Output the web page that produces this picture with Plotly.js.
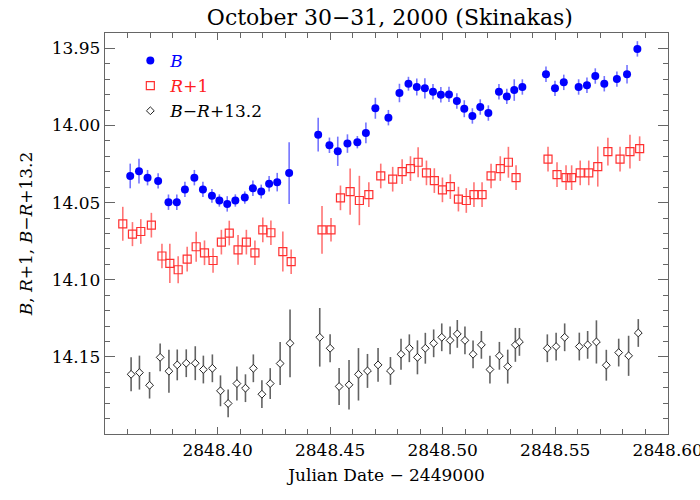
<!DOCTYPE html>
<html>
<head>
<meta charset="utf-8">
<script src="https://cdn.plot.ly/plotly-3.0.1.min.js"></script>
<style>
  html, body { margin: 0; padding: 0; background: #fff; }
  #chart { width: 700px; height: 500px; }
</style>
</head>
<body>
<div id="chart"></div>
<script>
// B band
var bJD = [2848.3612, 2848.3651, 2848.3689, 2848.3736, 2848.3782, 2848.3819, 2848.3855, 2848.3897, 2848.3935, 2848.3975,
  2848.4008, 2848.4043, 2848.4079, 2848.4121, 2848.4157, 2848.4194, 2848.4229, 2848.4265, 2848.4318,
  2848.4447, 2848.4497, 2848.4534, 2848.4577, 2848.4621, 2848.4659, 2848.4701, 2848.4759, 2848.4808, 2848.4848,
  2848.4885, 2848.4921, 2848.4957, 2848.4992, 2848.5028, 2848.5063, 2848.5096, 2848.5132, 2848.5167, 2848.5203,
  2848.5250, 2848.5285, 2848.5318, 2848.5354,
  2848.5459, 2848.5499, 2848.5538, 2848.5604, 2848.5641, 2848.5678, 2848.5718, 2848.5774, 2848.5819, 2848.5865];
var bMag = [14.0327, 14.0296, 14.0338, 14.0359, 14.0497, 14.0497, 14.0414, 14.0338, 14.0414, 14.0456,
  14.0486, 14.0508, 14.0486, 14.0467, 14.0407, 14.0428, 14.0377, 14.0367, 14.0308,
  14.0059, 14.0128, 14.0167, 14.0117, 14.0108, 14.0048, 13.9888, 13.9949, 13.9789, 13.9729,
  13.9750, 13.9759, 13.9781, 13.9800, 13.9798, 13.9841, 13.9891, 13.9938, 13.9880, 13.9919,
  13.9781, 13.9811, 13.9770, 13.9750,
  13.9668, 13.9759, 13.9720, 13.9750, 13.9739, 13.9679, 13.9729, 13.9699, 13.9668, 13.9503];
var bErr = [0.008, 0.008, 0.005, 0.005, 0.005, 0.005, 0.005, 0.005, 0.005, 0.0045,
  0.004, 0.005, 0.004, 0.004, 0.005, 0.0045, 0.005, 0.006, 0.020,
  0.011, 0.005, 0.0095, 0.006, 0.004, 0.0067, 0.0068, 0.005, 0.006, 0.0045,
  0.0055, 0.0065, 0.005, 0.005, 0.005, 0.005, 0.0055, 0.005, 0.005, 0.005,
  0.005, 0.005, 0.007, 0.005,
  0.005, 0.005, 0.005, 0.005, 0.005, 0.005, 0.005, 0.005, 0.006, 0.005];

// R band + 1
var rJD = [2848.3579, 2848.3622, 2848.3659, 2848.3706, 2848.3753, 2848.3788, 2848.3825, 2848.3865, 2848.3905, 2848.3942,
  2848.3980, 2848.4017, 2848.4052, 2848.4091, 2848.4128, 2848.4166, 2848.4201, 2848.4237, 2848.4290, 2848.4327,
  2848.4464, 2848.4504, 2848.4546, 2848.4589, 2848.4630, 2848.4672, 2848.4725, 2848.4778, 2848.4820, 2848.4857,
  2848.4891, 2848.4928, 2848.4963, 2848.4999, 2848.5034, 2848.5070, 2848.5105, 2848.5139, 2848.5175, 2848.5215,
  2848.5256, 2848.5292, 2848.5326,
  2848.5468, 2848.5508, 2848.5548, 2848.5573, 2848.5611, 2848.5649, 2848.5689, 2848.5734, 2848.5788, 2848.5832, 2848.5875];
var rMag = [14.0637, 14.0704, 14.0687, 14.0646, 14.0846, 14.0894, 14.0935, 14.0866, 14.0786, 14.0825,
  14.0875, 14.0756, 14.0697, 14.0806, 14.0756, 14.0825, 14.0676, 14.0695, 14.0817, 14.0883,
  14.0676, 14.0676, 14.0469, 14.0428, 14.0486, 14.0448, 14.0327, 14.0348, 14.0299, 14.0279,
  14.0238, 14.0307, 14.0357, 14.0417, 14.0396, 14.0477, 14.0486, 14.0448, 14.0448, 14.0327,
  14.0279, 14.0238, 14.0338,
  14.0218, 14.0318, 14.0338, 14.0338, 14.0307, 14.0307, 14.0266, 14.0169, 14.0218, 14.0169, 14.0150];
var rErr = [0.011, 0.0078, 0.008, 0.008, 0.008, 0.0127, 0.0088, 0.008, 0.0097, 0.008,
  0.008, 0.008, 0.008, 0.0097, 0.008, 0.008, 0.008, 0.008, 0.013, 0.008,
  0.0155, 0.0076, 0.008, 0.015, 0.016, 0.008, 0.008, 0.008, 0.008, 0.008,
  0.0097, 0.008, 0.008, 0.008, 0.008, 0.008, 0.008, 0.008, 0.008, 0.008,
  0.008, 0.010, 0.008,
  0.008, 0.008, 0.008, 0.008, 0.008, 0.008, 0.013, 0.009, 0.008, 0.011, 0.008];

// B-R + 13.2
var cJD = [2848.3616, 2848.3653, 2848.3698, 2848.3745, 2848.3784, 2848.3821, 2848.3861, 2848.3901, 2848.3937, 2848.3977,
  2848.4013, 2848.4047, 2848.4086, 2848.4124, 2848.4159, 2848.4197, 2848.4234, 2848.4278, 2848.4322,
  2848.4454, 2848.4500, 2848.4540, 2848.4584, 2848.4626, 2848.4666, 2848.4713, 2848.4768, 2848.4815, 2848.4852,
  2848.4888, 2848.4923, 2848.4960, 2848.4996, 2848.5033, 2848.5065, 2848.5099, 2848.5135, 2848.5172, 2848.5210,
  2848.5252, 2848.5289, 2848.5323, 2848.5341,
  2848.5465, 2848.5504, 2848.5542, 2848.5607, 2848.5644, 2848.5683, 2848.5727, 2848.5782, 2848.5826, 2848.5869];
var cMag = [14.1613, 14.1602, 14.1684, 14.1503, 14.1593, 14.1552, 14.1541, 14.1541, 14.1582, 14.1574,
  14.1720, 14.1802, 14.1673, 14.1703, 14.1574, 14.1742, 14.1673, 14.1543, 14.1412,
  14.1373, 14.1444, 14.1692, 14.1681, 14.1613, 14.1591, 14.1552, 14.1591, 14.1483, 14.1444,
  14.1503, 14.1444, 14.1412, 14.1373, 14.1393, 14.1351, 14.1393, 14.1483, 14.1422, 14.1582,
  14.1493, 14.1563, 14.1422, 14.1403,
  14.1444, 14.1433, 14.1373, 14.1433, 14.1422, 14.1403, 14.1554, 14.1472, 14.1493, 14.1345];
var cErr = [0.011, 0.011, 0.0086, 0.009, 0.014, 0.010, 0.009, 0.011, 0.009, 0.009,
  0.010, 0.009, 0.011, 0.009, 0.009, 0.009, 0.010, 0.014, 0.022,
  0.019, 0.009, 0.012, 0.016, 0.017, 0.011, 0.011, 0.009, 0.010, 0.009,
  0.011, 0.010, 0.009, 0.009, 0.009, 0.009, 0.009, 0.009, 0.009, 0.009,
  0.009, 0.011, 0.011, 0.009,
  0.009, 0.009, 0.009, 0.009, 0.009, 0.014, 0.010, 0.009, 0.013, 0.009];

var yTicks = [13.95, 14.00, 14.05, 14.10, 14.15];
var xTicks = [2848.40, 2848.45, 2848.50, 2848.55, 2848.60];

var serif = 'DejaVu Serif, serif';

var traceB = {
  x: bJD, y: bMag, type: 'scatter', mode: 'markers',
  name: '<span style="color:#0000ff"><i>B</i></span>',
  marker: { symbol: 'circle', size: 8, color: '#0000ff' },
  error_y: { type: 'data', array: bErr, visible: true, color: 'rgba(70,70,255,0.75)', thickness: 1.6, width: 0 }
};
var traceR = {
  x: rJD, y: rMag, type: 'scatter', mode: 'markers',
  name: '<span style="color:#ff2020"><i>R</i>+1</span>',
  marker: { symbol: 'square-open', size: 8, color: '#ff3030', line: { width: 1.2 } },
  error_y: { type: 'data', array: rErr, visible: true, color: 'rgba(255,70,70,0.75)', thickness: 1.6, width: 0 }
};
var traceC = {
  x: cJD, y: cMag, type: 'scatter', mode: 'markers',
  name: '<i>B</i>\u2212<i>R</i>+13.2',
  marker: { symbol: 'diamond', size: 6, color: '#ffffff', line: { width: 1, color: '#222' } },
  error_y: { type: 'data', array: cErr, visible: true, color: 'rgba(60,60,60,0.8)', thickness: 1.6, width: 0 }
};

var axisCommon = {
  showline: true, linecolor: '#666', linewidth: 1.2, mirror: 'ticks',
  ticks: 'inside', ticklen: 10, tickwidth: 1.2, tickcolor: '#666',
  showgrid: false, zeroline: false, ticklabeloverflow: 'allow',
  tickfont: { family: serif, size: 17, color: '#000' }
};

var layout = {
  width: 700, height: 500,
  paper_bgcolor: '#fff', plot_bgcolor: '#fff',
  margin: { l: 105, r: 32, t: 33, b: 66 },
  showlegend: true,
  title: { text: 'October 30\u221231, 2000 (Skinakas)', x: 0.557, xanchor: 'center', y: 0.965, yanchor: 'middle',
    font: { family: serif, size: 22, color: '#000' } },
  xaxis: Object.assign({}, axisCommon, {
    range: [2848.35, 2848.6001], tickmode: 'array', tickvals: xTicks,
    ticktext: xTicks.map(function (v) { return v.toFixed(2); }),
    ticklen: 7,
    minor: { tickmode: 'linear', tick0: 2848.35, dtick: 0.01, ticks: 'inside', ticklen: 5, tickcolor: '#666', tickwidth: 1, showgrid: false },
    title: { text: 'Julian Date \u2212 2449000', standoff: 10, font: { family: serif, size: 17, color: '#000' } }
  }),
  yaxis: Object.assign({}, axisCommon, {
    range: [14.20, 13.94], tickmode: 'array', tickvals: yTicks,
    ticktext: yTicks.map(function (v) { return v.toFixed(2); }),
    minor: { tickmode: 'linear', tick0: 13.94, dtick: 0.01, ticks: 'inside', ticklen: 5, tickcolor: '#666', tickwidth: 1, showgrid: false },
    title: { text: '<i>B</i>, <i>R</i>+1, <i>B</i>\u2212<i>R</i>+13.2', standoff: 14, font: { family: serif, size: 17, color: '#000' } }
  }),
  legend: {
    x: 0.045, y: 0.975, xanchor: 'left', yanchor: 'top',
    bgcolor: 'rgba(0,0,0,0)', borderwidth: 0,
    font: { family: serif, size: 17, color: '#000' },
    itemwidth: 30, tracegroupgap: 0
  }
};

Plotly.newPlot('chart', [traceB, traceR, traceC], layout, { displayModeBar: false, staticPlot: true });
</script>
</body>
</html>
